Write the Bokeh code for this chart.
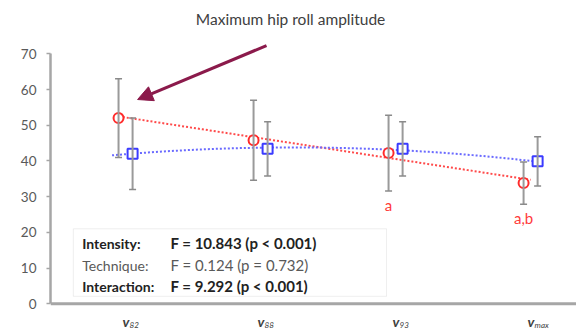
import numpy as np
from bokeh.plotting import figure
from bokeh.models import (Range1d, Whisker, ColumnDataSource, Arrow, NormalHead,
                          TeeHead, Label, BoxAnnotation, FixedTicker, Span)
from bokeh.embed import file_html
from bokeh.resources import INLINE

# ---------------- data ----------------
categories = ["82", "88", "93", "max"]
red_mean = [52.0, 45.8, 42.2, 33.8]
red_sd = [11.0, 11.2, 10.6, 5.9]
blue_mean = [42.0, 43.4, 43.4, 39.9]
blue_sd = [10.0, 7.6, 7.6, 6.9]
sig_labels = ["", "", "a", "a,b"]
y_ticks = [0, 10, 20, 30, 40, 50, 60, 70]
stat_names = ["Intensity:", "Technique:", "Interaction:"]
stat_values = ["F = 10.843 (p < 0.001)", "F = 0.124 (p = 0.732)", "F = 9.292 (p < 0.001)"]
title_text = "Maximum hip roll amplitude"

FONT = "Lato"
RED = "#ff2b2b"
BLUE = "#3b3bff"
GREY = "#a6a6a6"

idx = np.arange(len(categories))
off = 0.052
red_x = idx - off
blue_x = idx + off

p = figure(width=576, height=333, output_backend="svg", toolbar_location=None,
           x_range=Range1d(-0.556, 3.34), y_range=Range1d(-8.32, 84.93),
           min_border_left=50, min_border_right=0, min_border_top=0, min_border_bottom=0)
p.outline_line_color = None
p.grid.visible = False
p.background_fill_color = "white"

# y axis (line limited to 0..70)
p.yaxis.bounds = (0, 70)
p.yaxis.ticker = FixedTicker(ticks=y_ticks)
p.yaxis.axis_line_color = GREY
p.yaxis.axis_line_width = 2.5
p.yaxis.major_tick_line_color = GREY
p.yaxis.major_tick_line_width = 1.5
p.yaxis.major_tick_out = 4
p.yaxis.major_tick_in = 0
p.yaxis.minor_tick_line_color = None
p.yaxis.major_label_text_font = FONT
p.yaxis.major_label_text_font_size = "13.5px"
p.yaxis.major_label_text_color = "#595959"
p.yaxis.major_label_standoff = 10

# x axis: drawn as a baseline at y = 0, labels as text below
p.xaxis.visible = False
p.add_layout(Span(location=0, dimension="width", line_color=GREY, line_width=3))

# trend lines (fitted from the data)
rfit = np.polyfit(idx, red_mean, 1)
bfit = np.polyfit(idx, blue_mean, 2)
rx = np.linspace(-0.05, 3.0, 60)
bx = np.linspace(-0.1, 3.05, 60)
p.line(rx, np.polyval(rfit, rx), line_color="#ff4a4a", line_width=2, line_dash="2 2")
p.line(bx, np.polyval(bfit, bx), line_color="#6a6aff", line_width=2, line_dash="2 2")

# error bars
for xs, m, s in ((red_x, red_mean, red_sd), (blue_x, blue_mean, blue_sd)):
    m = np.array(m); s = np.array(s)
    src = ColumnDataSource(dict(x=xs, up=m + s, lo=m - s))
    w = Whisker(source=src, base="x", upper="up", lower="lo", dimension="height",
                line_color="#9a9a9a", line_width=2,
                upper_head=TeeHead(size=7, line_color="#8a8a8a", line_width=1.5),
                lower_head=TeeHead(size=7, line_color="#8a8a8a", line_width=1.5))
    w.level = "glyph"
    p.add_layout(w)

# markers
p.scatter(red_x, red_mean, marker="circle", size=10, line_color=RED, line_width=2,
          fill_color="white")
p.scatter(blue_x, blue_mean, marker="square", size=10, line_color=BLUE, line_width=2,
          fill_color="white")

# significance letters
for i, t in enumerate(sig_labels):
    if t:
        p.add_layout(Label(x=red_x[i], y=red_mean[i] - red_sd[i] - 3.9, text=t,
                           text_font=FONT, text_font_size="15px", text_color="#ff3b3b",
                           text_align="center", text_baseline="middle"))

# x category labels (v with subscript)
for i, c in enumerate(categories):
    p.add_layout(Label(x=idx[i], y=-5.0, x_offset=-3, text="v",
                       text_font=FONT, text_font_size="14px", text_font_style="bold italic",
                       text_color="#404040", text_align="left", text_baseline="middle"))
    p.add_layout(Label(x=idx[i], y=-5.8, x_offset=4, text=c,
                       text_font=FONT, text_font_size="8px", text_font_style="italic",
                       text_color="#404040", text_align="left", text_baseline="middle"))

# statistics box
p.add_layout(BoxAnnotation(left=-0.387, right=1.933, top=21.0, bottom=2.1,
                           fill_color="white", fill_alpha=1.0,
                           line_color="#c8c8c8", line_width=1))
row_y = [16.9, 10.8, 4.9]
for i, (n, v) in enumerate(zip(stat_names, stat_values)):
    bold = i != 1
    col = "#222222" if bold else "#595959"
    style = "bold" if bold else "normal"
    p.add_layout(Label(x=-0.321, y=row_y[i], text=n, text_font=FONT, text_font_size="14px",
                       text_font_style=style, text_color=col, text_baseline="middle"))
    p.add_layout(Label(x=0.333, y=row_y[i], text=v, text_font=FONT, text_font_size="15px",
                       text_font_style=style, text_color=col, text_baseline="middle"))

# title
p.add_layout(Label(x=1.222, y=79.8, text=title_text, text_font=FONT, text_font_size="15.5px",
                   text_color="#404040", text_align="center", text_baseline="middle"))

# arrow
p.add_layout(Arrow(x_start=1.044, y_start=72.3, x_end=0.089, y_end=57.2,
                   line_color="#8b1a4b", line_width=3,
                   end=NormalHead(size=15, fill_color="#8b1a4b", line_color="#8b1a4b")))

open("out.html", "w").write(file_html(p, INLINE))
